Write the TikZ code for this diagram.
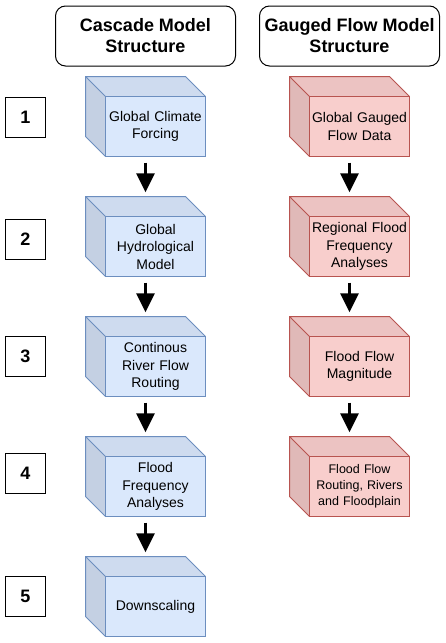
\documentclass[tikz,border=0pt]{standalone}
\usepackage{fontspec}
\setmainfont{Liberation Sans}
\usetikzlibrary{arrows.meta}
\definecolor{bfront}{HTML}{DAE8FC}
\definecolor{btop}{HTML}{CEDBEF}
\definecolor{bside}{HTML}{C4D0E3}
\definecolor{bline}{HTML}{6C8EBF}
\definecolor{rfront}{HTML}{F8CECC}
\definecolor{rtop}{HTML}{ECC3C2}
\definecolor{rside}{HTML}{E0B9B8}
\definecolor{rline}{HTML}{B85450}
\newcommand\mycube[6]{%
 \begin{scope}[shift={(#2,#3)}]
  \fill[#4top] (0,0) -- (100,0) -- (120,20) -- (20,20) -- cycle;
  \fill[#4side] (0,0) -- (20,20) -- (20,80) -- (0,60) -- cycle;
  \draw[#4line, line width=1pt, line join=round] (20,20) -- (0,0) -- (100,0) -- (120,20);
  \draw[#4line, line width=1pt, line join=round] (0,0) -- (0,60) -- (20,80);
  \node[frontface, fill=#4front, draw=#4line, font=#6] (#1) at (70,50) {#5};
  \node[cubebox] (#1b) at (60,40) {};
 \end{scope}}
\begin{document}
\begin{tikzpicture}[x=1pt,y=-1pt,
  frontface/.style={minimum width=100pt, minimum height=60pt, inner sep=0pt, align=center, text width=98pt, line width=1pt},
  cubebox/.style={minimum width=120pt, minimum height=80pt, inner sep=0pt},
  titlebox/.style={draw, line width=1pt, rounded corners=10pt, minimum width=180pt, minimum height=60pt, align=center, inner sep=0pt, font=\bfseries\fontsize{18}{21}\selectfont},
  numbox/.style={draw, line width=1pt, minimum width=40pt, minimum height=40pt, inner sep=0pt, font=\bfseries\fontsize{18}{21}\selectfont},
  arr/.style={line width=3pt, -{Triangle[width=18pt,length=19pt]}, shorten <=6pt, shorten >=4pt}]
\useasboundingbox (0,0) rectangle (446,643);
\def\nf{\fontsize{14}{17.5}\selectfont}
\def\sf{\fontsize{12.5}{16}\selectfont}
\node[titlebox] (t1) at (145.5,36) {Cascade Model\\Structure};
\node[titlebox] (t2) at (349.5,36) {Gauged Flow Model\\Structure};
\node[numbox] (n1) at (25.5,117) {1};
\node[numbox] (n2) at (25.5,239) {2};
\node[numbox] (n3) at (25.5,356) {3};
\node[numbox] (n4) at (25.5,473) {4};
\node[numbox] (n5) at (25.5,596) {5};
\mycube{a1}{85.5}{76.5}{b}{Global Climate\\Forcing}{\nf}
\mycube{a2}{85.5}{196.5}{b}{Global\\Hydrological\\Model}{\nf}
\mycube{a3}{85.5}{316.5}{b}{Continous\\River Flow\\Routing}{\nf}
\mycube{a4}{85.5}{436.5}{b}{Flood\\Frequency\\Analyses}{\nf}
\mycube{a5}{85.5}{556.5}{b}{Downscaling}{\nf}
\mycube{g1}{289.5}{76.5}{r}{Global Gauged\\Flow Data}{\nf}
\mycube{g2}{289.5}{196.5}{r}{Regional Flood\\Frequency\\Analyses}{\nf}
\mycube{g3}{289.5}{316.5}{r}{Flood Flow\\Magnitude}{\nf}
\mycube{g4}{289.5}{436.5}{r}{Flood Flow\\Routing, Rivers\\and Floodplain}{\sf}
\draw[arr] (a1b.south) -- (a2b.north);
\draw[arr] (a2b.south) -- (a3b.north);
\draw[arr] (a3b.south) -- (a4b.north);
\draw[arr] (a4b.south) -- (a5b.north);
\draw[arr] (g1b.south) -- (g2b.north);
\draw[arr] (g2b.south) -- (g3b.north);
\draw[arr] (g3b.south) -- (g4b.north);
\end{tikzpicture}
\end{document}
